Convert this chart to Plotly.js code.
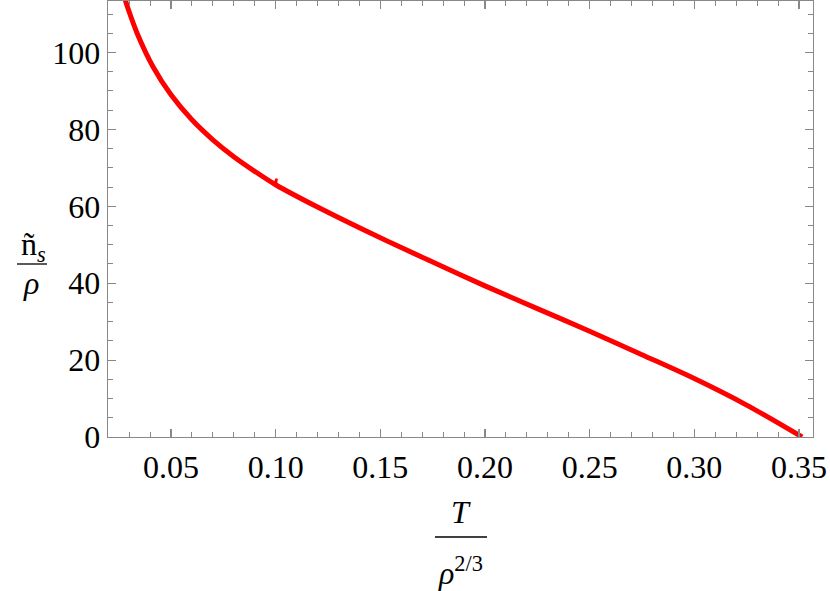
<!DOCTYPE html>
<html>
<head>
<meta charset="utf-8">
<script src="https://cdn.plot.ly/plotly-3.0.1.min.js"></script>
<style>html,body{margin:0;padding:0;background:#fff;}#chart{width:830px;height:591px;}</style>
</head>
<body>
<div id="chart"></div>
<script>
// T / rho^(2/3)
const tValues = [0.0268, 0.0300, 0.0339, 0.0414, 0.0500, 0.0600, 0.0700, 0.0800, 0.0900, 0.1000, 0.1200, 0.1500, 0.1750, 0.2000, 0.2250, 0.2500, 0.2750, 0.3000, 0.3250, 0.3515];
// n_s / rho
const nsValues = [116.0, 110.6, 104.9, 96.3, 89.0, 82.5, 77.3, 72.9, 69.1, 65.6, 59.8, 51.8, 45.5, 39.3, 33.4, 27.5, 21.4, 15.2, 8.3, 0.0];
// small glitch near T = 0.10
const glitchT = [0.0994, 0.1005, 0.1000];
const glitchNs = [65.8, 67.2, 65.5];

const xTicks = [0.05, 0.10, 0.15, 0.20, 0.25, 0.30, 0.35];
const xTickText = ["0.05", "0.10", "0.15", "0.20", "0.25", "0.30", "0.35"];
const yTicks = [0, 20, 40, 60, 80, 100];

const frame = '#888888';
const serif = '"Times New Roman", "Liberation Serif", serif';

const traces = [
  {x: tValues, y: nsValues, mode: 'lines', line: {color: '#ff0000', width: 5, shape: 'spline', smoothing: 0.9}, hoverinfo: 'skip'},
  {x: glitchT, y: glitchNs, mode: 'lines', line: {color: '#ff0000', width: 2.5}, hoverinfo: 'skip'}
];

const L = 108, R = 17, T = 1, B = 154, W = 830, H = 591;
const pw = W - L - R, ph = H - T - B;
const px = v => (v - L) / pw;
const py = v => (H - B - v) / ph;

const layout = {
  width: W, height: H,
  margin: {l: L, r: R, t: T, b: B, pad: 0},
  paper_bgcolor: '#fff', plot_bgcolor: '#fff',
  showlegend: false,
  font: {family: serif, size: 32, color: '#000'},
  xaxis: {
    range: [0.0199, 0.3567], tickvals: xTicks, ticktext: xTickText,
    showgrid: false, zeroline: false, showline: true, linecolor: frame, linewidth: 1.3,
    mirror: 'allticks', ticks: 'inside', ticklen: 8, tickwidth: 1.2, tickcolor: frame,
    minor: {dtick: 0.01, tick0: 0, ticks: 'inside', ticklen: 5, tickwidth: 1, tickcolor: frame, showgrid: false},
    tickfont: {family: serif, size: 32, color: '#000'}, ticklabelstandoff: 1
  },
  yaxis: {
    range: [0, 113.4], tickvals: yTicks,
    showgrid: false, zeroline: false, showline: true, linecolor: frame, linewidth: 1.3,
    mirror: 'allticks', ticks: 'inside', ticklen: 8, tickwidth: 1.2, tickcolor: frame,
    minor: {dtick: 5, tick0: 0, ticks: 'inside', ticklen: 5, tickwidth: 1, tickcolor: frame, showgrid: false},
    tickfont: {family: serif, size: 32, color: '#000'}, ticklabelstandoff: 0
  },
  annotations: [
    {xref: 'paper', yref: 'paper', x: px(33), y: py(246), text: 'ñ<sub><i>s</i></sub>', showarrow: false, font: {family: serif, size: 32}, xanchor: 'center', yanchor: 'middle'},
    {xref: 'paper', yref: 'paper', x: px(31), y: py(283), text: '<i>ρ</i>', showarrow: false, font: {family: serif, size: 32}, xanchor: 'center', yanchor: 'middle'},
    {xref: 'paper', yref: 'paper', x: px(461), y: py(512), text: '<i>T</i>', showarrow: false, font: {family: serif, size: 32}, xanchor: 'center', yanchor: 'middle'},
    {xref: 'paper', yref: 'paper', x: px(461), y: py(571), text: '<i>ρ</i><sup>2/3</sup>', showarrow: false, font: {family: serif, size: 32}, xanchor: 'center', yanchor: 'middle'}
  ],
  shapes: [
    {type: 'line', xref: 'paper', yref: 'paper', x0: px(17), x1: px(47), y0: py(264), y1: py(264), line: {color: '#000', width: 1.3}},
    {type: 'line', xref: 'paper', yref: 'paper', x0: px(435), x1: px(487), y0: py(537), y1: py(537), line: {color: '#000', width: 1.3}}
  ]
};

Plotly.newPlot('chart', traces, layout, {displayModeBar: false, staticPlot: true});
</script>
</body>
</html>
